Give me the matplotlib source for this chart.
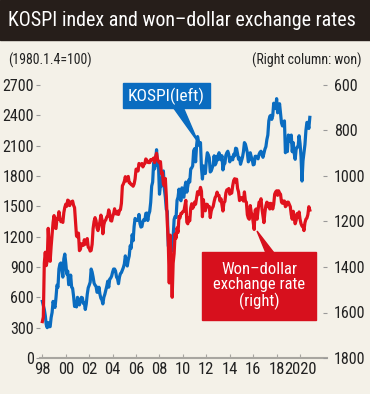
import matplotlib.pyplot as plt
import matplotlib.patches as mpatches
import numpy as np

plt.rcParams['font.family'] = ['Roboto Condensed', 'Archivo Narrow', 'DejaVu Sans']

# monthly values, Jan 1998 .. Nov 2020
kospi = [
    560, 520, 480, 420, 330, 300, 350, 310, 310, 400, 450, 560,        # 1998
    520, 500, 600, 720, 700, 880, 930, 940, 880, 800, 980, 1028,       # 1999
    940, 830, 860, 725, 730, 820, 700, 690, 610, 510, 525, 505,        # 2000
    600, 575, 525, 565, 600, 595, 540, 545, 480, 535, 630, 694,        # 2001
    720, 750, 880, 850, 800, 740, 720, 710, 650, 650, 700, 630,        # 2002
    590, 575, 535, 600, 630, 670, 710, 760, 700, 780, 790, 810,        # 2003
    850, 880, 880, 860, 800, 785, 735, 800, 835, 845, 870, 895,        # 2004
    930, 1010, 965, 910, 970, 1010, 1110, 1085, 1220, 1160, 1300, 1380,  # 2005
    1360, 1370, 1360, 1420, 1330, 1295, 1300, 1350, 1370, 1360, 1430, 1434,  # 2006
    1360, 1420, 1450, 1540, 1700, 1740, 1930, 1870, 1950, 2060, 1900, 1897,  # 2007
    1620, 1710, 1700, 1830, 1850, 1670, 1590, 1470, 1450, 1110, 1080, 1124,  # 2008
    1160, 1060, 1200, 1370, 1400, 1390, 1560, 1590, 1670, 1580, 1555, 1683,  # 2009
    1600, 1590, 1690, 1740, 1640, 1700, 1760, 1740, 1870, 1880, 1900, 2050,  # 2010
    2070, 1940, 2100, 2190, 2140, 2100, 2130, 1880, 1770, 1900, 1850, 1825,  # 2011
    1950, 2030, 2010, 1980, 1840, 1850, 1880, 1910, 2000, 1910, 1930, 1997,  # 2012
    1960, 2030, 2000, 1960, 2000, 1860, 1915, 1925, 2005, 2030, 2045, 2011,  # 2013
    1940, 1980, 1985, 1960, 2015, 2000, 2075, 2070, 2020, 1965, 1980, 1916,  # 2014
    1950, 1985, 2040, 2130, 2115, 2075, 2030, 1940, 1960, 2030, 1990, 1961,  # 2015
    1910, 1915, 1995, 1995, 1985, 1970, 2015, 2035, 2045, 2010, 1985, 2026,  # 2016
    2065, 2090, 2160, 2205, 2345, 2390, 2400, 2360, 2395, 2520, 2475, 2467,  # 2017
    2565, 2425, 2445, 2515, 2425, 2325, 2295, 2320, 2345, 2030, 2095, 2041,  # 2018
    2205, 2195, 2140, 2205, 2040, 2130, 2025, 1965, 2065, 2085, 2090, 2198,  # 2019
    2120, 1990, 1750, 1950, 2030, 2110, 2250, 2330, 2330, 2270, 2380,        # 2020
]

won = [
    1640, 1620, 1383, 1335, 1394, 1373, 1230, 1310, 1375, 1310, 1255, 1204,  # 1998
    1174, 1227, 1231, 1186, 1190, 1157, 1185, 1201, 1197, 1204, 1161, 1138,  # 1999
    1124, 1133, 1106, 1109, 1130, 1115, 1116, 1110, 1129, 1139, 1200, 1264,  # 2000
    1268, 1251, 1328, 1322, 1298, 1300, 1305, 1280, 1300, 1290, 1275, 1313,  # 2001
    1318, 1330, 1327, 1300, 1231, 1200, 1183, 1196, 1228, 1240, 1220, 1200,  # 2002
    1172, 1190, 1254, 1214, 1198, 1193, 1180, 1176, 1149, 1165, 1196, 1198,  # 2003
    1178, 1166, 1144, 1165, 1167, 1155, 1169, 1151, 1148, 1120, 1043, 1035,  # 2004
    1023, 1003, 1022, 1010, 1002, 1030, 1031, 1038, 1040, 1045, 1035, 1013,  # 2005
    970, 970, 978, 945, 951, 951, 945, 960, 950, 945, 925, 930,              # 2006
    940, 941, 941, 928, 930, 926, 921, 941, 915, 900, 926, 936,              # 2007
    942, 937, 990, 985, 1035, 1043, 1011, 1089, 1207, 1291, 1470, 1260,      # 2008
    1380, 1533, 1383, 1341, 1255, 1273, 1228, 1248, 1178, 1184, 1164, 1164,  # 2009
    1156, 1155, 1130, 1107, 1203, 1210, 1185, 1197, 1141, 1122, 1142, 1134,  # 2010
    1115, 1124, 1096, 1069, 1082, 1068, 1050, 1067, 1179, 1104, 1149, 1153,  # 2011
    1124, 1125, 1136, 1134, 1183, 1154, 1141, 1134, 1112, 1095, 1088, 1071,  # 2012
    1085, 1085, 1110, 1100, 1128, 1154, 1118, 1112, 1075, 1061, 1060, 1055,  # 2013
    1080, 1068, 1075, 1043, 1020, 1012, 1026, 1014, 1055, 1070, 1108, 1099,  # 2014
    1095, 1100, 1110, 1070, 1110, 1115, 1170, 1185, 1190, 1130, 1160, 1172,  # 2015
    1205, 1235, 1150, 1145, 1190, 1150, 1115, 1115, 1100, 1145, 1175, 1205,  # 2016
    1160, 1130, 1115, 1135, 1120, 1145, 1120, 1125, 1145, 1125, 1080, 1070,  # 2017
    1065, 1085, 1065, 1075, 1080, 1115, 1120, 1110, 1110, 1135, 1130, 1115,  # 2018
    1115, 1125, 1135, 1170, 1190, 1155, 1185, 1210, 1195, 1165, 1180, 1158,  # 2019
    1190, 1210, 1220, 1220, 1240, 1205, 1190, 1185, 1170, 1135, 1150,        # 2020
]

xtick_years = [1998, 2000, 2002, 2004, 2006, 2008, 2010, 2012, 2014, 2016, 2018, 2020]
xtick_labels = ['98', '00', '02', '04', '06', '08', '10', '12', '14', '16', '18', '2020']
left_ticks = [0, 300, 600, 900, 1200, 1500, 1800, 2100, 2400, 2700]
right_ticks = [600, 800, 1000, 1200, 1400, 1600, 1800]

BG = '#f4f1e8'
BLUE = '#0a6cc0'
RED = '#e0121d'
W, H = 370, 394


def px(x, y):
    return (x / W, 1 - y / H)


months_k = 1998 + np.arange(len(kospi)) / 12
months_w = 1998 + np.arange(len(won)) / 12

fig = plt.figure(figsize=(3.7, 3.94), dpi=100, facecolor=BG)
ax = fig.add_axes([40 / W, 1 - 358 / H, 287 / W, 273 / H])
ax.set_facecolor('none')
ax.plot(months_k, kospi, color=BLUE, lw=2.3, solid_joinstyle='round')
ax.set_xlim(1997.8, 2022.3)
ax.set_ylim(0, 2700)
ax.set_yticks(left_ticks)
ax.set_xticks(xtick_years)
ax.set_xticklabels(xtick_labels)
for s in ['top', 'right', 'left']:
    ax.spines[s].set_visible(False)
ax.spines['bottom'].set_color('#a8a6a0')
ax.spines['bottom'].set_linewidth(1.5)
ax.tick_params(axis='x', direction='in', length=3, color='#a8a6a0', labelsize=12, pad=3, labelcolor='#222')
ax.tick_params(axis='y', direction='out', length=3, color='#999', labelsize=11.5, pad=1.5, labelcolor='#222')

ax2 = ax.twinx()
ax2.plot(months_w, won, color=RED, lw=2.3, solid_joinstyle='round')
ax2.set_ylim(1800, 600)
ax2.set_yticks(right_ticks)
for s in ['top', 'right', 'left', 'bottom']:
    ax2.spines[s].set_visible(False)
ax2.tick_params(axis='y', direction='in', length=3, color='#999', labelsize=11.5, pad=5, labelcolor='#222')

# title bar
fig.add_artist(mpatches.Rectangle(px(0, 40), 1, 40 / H, transform=fig.transFigure, color='#261e1a', zorder=0))
fig.text(*px(8, 21), 'KOSPI index and won\u2013dollar exchange rates', color='white',
         fontsize=14.4, ha='left', va='center')
fig.text(*px(8, 60), '(1980.1.4=100)', fontsize=10, ha='left', va='center', color='#222')
fig.text(*px(362, 60), '(Right column: won)', fontsize=10, ha='right', va='center', color='#222')

# KOSPI label
fig.add_artist(mpatches.Polygon([px(173, 107), px(183, 107), px(198, 142)], closed=True,
                                transform=fig.transFigure, color=BLUE))
fig.add_artist(mpatches.Rectangle(px(123, 108), 87 / W, 25 / H, transform=fig.transFigure, color=BLUE))
fig.text(*px(166.5, 96), 'KOSPI(left)', color='white', fontsize=12.5, ha='center', va='center')

# won label
fig.add_artist(mpatches.Polygon([px(266, 253), px(274, 253), px(257, 231)], closed=True,
                                transform=fig.transFigure, color='#d7101d'))
fig.add_artist(mpatches.Rectangle(px(202, 320), 114 / W, 68 / H, transform=fig.transFigure, color='#d7101d'))
fig.text(*px(259, 286), 'Won\u2013dollar\nexchange rate\n(right)', color='white', fontsize=12,
         ha='center', va='center', linespacing=1.0)

fig.savefig('out.png', dpi=100, facecolor=BG)
